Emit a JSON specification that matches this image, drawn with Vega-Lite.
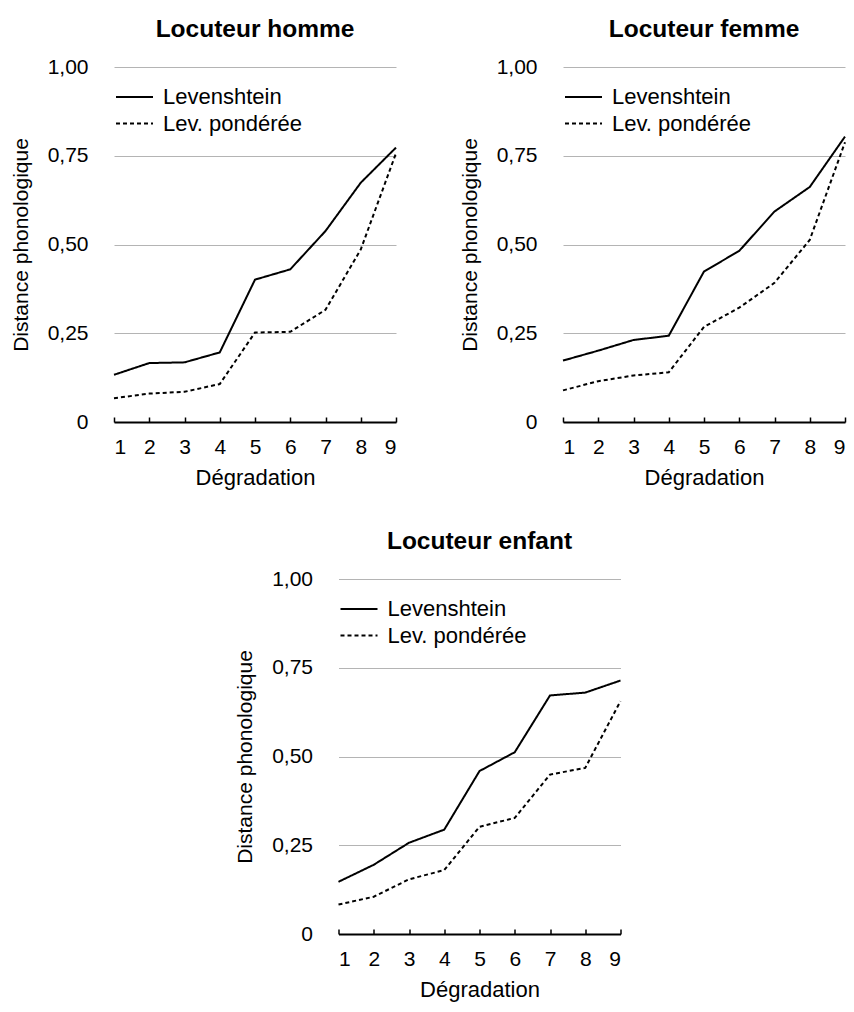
{
  "$schema": "https://vega.github.io/schema/vega-lite/v6.json",
  "background": "white",
  "padding": {"left": 10, "top": 16, "right": 5, "bottom": 5},
  "config": {
    "font": "Liberation Sans",
    "view": {"stroke": null},
    "axis": {"labelFont": "Liberation Sans", "titleFont": "Liberation Sans", "labelColor": "#000", "titleColor": "#000", "titleFontWeight": "normal"},
    "title": {"font": "Liberation Sans", "fontSize": 24.5, "fontWeight": "bold", "color": "#000", "offset": 14, "anchor": "middle"},
    "legend": {"orient": "none", "legendX": 1, "legendY": 18, "symbolType": "stroke", "symbolStrokeColor": "#000", "symbolStrokeWidth": 2, "symbolSize": 1369, "labelFont": "Liberation Sans", "labelFontSize": 22, "labelColor": "#000", "labelOffset": 9, "clipHeight": 24, "rowPadding": 2.5, "padding": 0}
  },
  "data": {"values": [
    {"panel": "homme", "type": "Levenshtein", "deg": 1, "value": 0.133},
    {"panel": "homme", "type": "Levenshtein", "deg": 2, "value": 0.166},
    {"panel": "homme", "type": "Levenshtein", "deg": 3, "value": 0.168},
    {"panel": "homme", "type": "Levenshtein", "deg": 4, "value": 0.196},
    {"panel": "homme", "type": "Levenshtein", "deg": 5, "value": 0.401},
    {"panel": "homme", "type": "Levenshtein", "deg": 6, "value": 0.430},
    {"panel": "homme", "type": "Levenshtein", "deg": 7, "value": 0.538},
    {"panel": "homme", "type": "Levenshtein", "deg": 8, "value": 0.674},
    {"panel": "homme", "type": "Levenshtein", "deg": 9, "value": 0.773},
    {"panel": "homme", "type": "Lev. pondérée", "deg": 1, "value": 0.067},
    {"panel": "homme", "type": "Lev. pondérée", "deg": 2, "value": 0.080},
    {"panel": "homme", "type": "Lev. pondérée", "deg": 3, "value": 0.085},
    {"panel": "homme", "type": "Lev. pondérée", "deg": 4, "value": 0.107},
    {"panel": "homme", "type": "Lev. pondérée", "deg": 5, "value": 0.252},
    {"panel": "homme", "type": "Lev. pondérée", "deg": 6, "value": 0.254},
    {"panel": "homme", "type": "Lev. pondérée", "deg": 7, "value": 0.316},
    {"panel": "homme", "type": "Lev. pondérée", "deg": 8, "value": 0.486},
    {"panel": "homme", "type": "Lev. pondérée", "deg": 9, "value": 0.757},
    {"panel": "femme", "type": "Levenshtein", "deg": 1, "value": 0.173},
    {"panel": "femme", "type": "Levenshtein", "deg": 2, "value": 0.201},
    {"panel": "femme", "type": "Levenshtein", "deg": 3, "value": 0.231},
    {"panel": "femme", "type": "Levenshtein", "deg": 4, "value": 0.243},
    {"panel": "femme", "type": "Levenshtein", "deg": 5, "value": 0.424},
    {"panel": "femme", "type": "Levenshtein", "deg": 6, "value": 0.482},
    {"panel": "femme", "type": "Levenshtein", "deg": 7, "value": 0.593},
    {"panel": "femme", "type": "Levenshtein", "deg": 8, "value": 0.662},
    {"panel": "femme", "type": "Levenshtein", "deg": 9, "value": 0.804},
    {"panel": "femme", "type": "Lev. pondérée", "deg": 1, "value": 0.089},
    {"panel": "femme", "type": "Lev. pondérée", "deg": 2, "value": 0.115},
    {"panel": "femme", "type": "Lev. pondérée", "deg": 3, "value": 0.131},
    {"panel": "femme", "type": "Lev. pondérée", "deg": 4, "value": 0.140},
    {"panel": "femme", "type": "Lev. pondérée", "deg": 5, "value": 0.268},
    {"panel": "femme", "type": "Lev. pondérée", "deg": 6, "value": 0.322},
    {"panel": "femme", "type": "Lev. pondérée", "deg": 7, "value": 0.392},
    {"panel": "femme", "type": "Lev. pondérée", "deg": 8, "value": 0.513},
    {"panel": "femme", "type": "Lev. pondérée", "deg": 9, "value": 0.788},
    {"panel": "enfant", "type": "Levenshtein", "deg": 1, "value": 0.147},
    {"panel": "enfant", "type": "Levenshtein", "deg": 2, "value": 0.195},
    {"panel": "enfant", "type": "Levenshtein", "deg": 3, "value": 0.257},
    {"panel": "enfant", "type": "Levenshtein", "deg": 4, "value": 0.294},
    {"panel": "enfant", "type": "Levenshtein", "deg": 5, "value": 0.459},
    {"panel": "enfant", "type": "Levenshtein", "deg": 6, "value": 0.512},
    {"panel": "enfant", "type": "Levenshtein", "deg": 7, "value": 0.672},
    {"panel": "enfant", "type": "Levenshtein", "deg": 8, "value": 0.680},
    {"panel": "enfant", "type": "Levenshtein", "deg": 9, "value": 0.714},
    {"panel": "enfant", "type": "Lev. pondérée", "deg": 1, "value": 0.083},
    {"panel": "enfant", "type": "Lev. pondérée", "deg": 2, "value": 0.105},
    {"panel": "enfant", "type": "Lev. pondérée", "deg": 3, "value": 0.154},
    {"panel": "enfant", "type": "Lev. pondérée", "deg": 4, "value": 0.180},
    {"panel": "enfant", "type": "Lev. pondérée", "deg": 5, "value": 0.302},
    {"panel": "enfant", "type": "Lev. pondérée", "deg": 6, "value": 0.327},
    {"panel": "enfant", "type": "Lev. pondérée", "deg": 7, "value": 0.449},
    {"panel": "enfant", "type": "Lev. pondérée", "deg": 8, "value": 0.468},
    {"panel": "enfant", "type": "Lev. pondérée", "deg": 9, "value": 0.656}
  ]},
  "center": true,
  "spacing": 40,
  "resolve": {"scale": {"strokeDash": "independent"}, "legend": {"strokeDash": "independent"}},
  "vconcat": [
    {
      "spacing": 59,
      "resolve": {"scale": {"strokeDash": "independent"}, "legend": {"strokeDash": "independent"}},
      "hconcat": [
        {
          "title": {"text": "Locuteur homme"},
          "width": 282, "height": 355,
          "transform": [{"filter": "datum.panel === 'homme'"}],
          "mark": {"type": "line", "color": "#000", "strokeWidth": 2},
          "encoding": {
            "x": {"field": "deg", "type": "quantitative", "scale": {"domain": [1, 9], "nice": false},
              "axis": {"values": [1, 2, 3, 4, 5, 6, 7, 8, 9], "title": "Dégradation", "grid": false, "domainColor": "#000", "domainWidth": 2, "tickColor": "#000", "tickWidth": 1.5, "tickSize": -5, "labelFontSize": 21, "titleFontSize": 22, "labelPadding": 19, "titlePadding": 10}},
            "y": {"field": "value", "type": "quantitative", "scale": {"domain": [0, 1], "nice": false},
              "axis": {"values": [0, 0.25, 0.5, 0.75, 1], "labelExpr": "datum.value == 0 ? '0' : replace(format(datum.value, '.2f'), '.', ',')", "domain": false, "ticks": false, "grid": true, "gridColor": "#b4b4b4", "gridWidth": 1, "labelFontSize": 21, "labelPadding": 26, "title": "Distance phonologique", "titleFontSize": 21, "titlePadding": 16}},
            "strokeDash": {"field": "type", "type": "nominal", "scale": {"domain": ["Levenshtein", "Lev. pondérée"], "range": [[1, 0], [4, 3]]}, "legend": {"title": null}}
          }
        },
        {
          "title": {"text": "Locuteur femme"},
          "width": 282, "height": 355,
          "transform": [{"filter": "datum.panel === 'femme'"}],
          "mark": {"type": "line", "color": "#000", "strokeWidth": 2},
          "encoding": {
            "x": {"field": "deg", "type": "quantitative", "scale": {"domain": [1, 9], "nice": false},
              "axis": {"values": [1, 2, 3, 4, 5, 6, 7, 8, 9], "title": "Dégradation", "grid": false, "domainColor": "#000", "domainWidth": 2, "tickColor": "#000", "tickWidth": 1.5, "tickSize": -5, "labelFontSize": 21, "titleFontSize": 22, "labelPadding": 19, "titlePadding": 10}},
            "y": {"field": "value", "type": "quantitative", "scale": {"domain": [0, 1], "nice": false},
              "axis": {"values": [0, 0.25, 0.5, 0.75, 1], "labelExpr": "datum.value == 0 ? '0' : replace(format(datum.value, '.2f'), '.', ',')", "domain": false, "ticks": false, "grid": true, "gridColor": "#b4b4b4", "gridWidth": 1, "labelFontSize": 21, "labelPadding": 26, "title": "Distance phonologique", "titleFontSize": 21, "titlePadding": 16}},
            "strokeDash": {"field": "type", "type": "nominal", "scale": {"domain": ["Levenshtein", "Lev. pondérée"], "range": [[1, 0], [4, 3]]}, "legend": {"title": null}}
          }
        }
      ]
    },
    {
      "title": {"text": "Locuteur enfant"},
      "width": 282, "height": 355,
      "transform": [{"filter": "datum.panel === 'enfant'"}],
      "mark": {"type": "line", "color": "#000", "strokeWidth": 2},
      "encoding": {
        "x": {"field": "deg", "type": "quantitative", "scale": {"domain": [1, 9], "nice": false},
          "axis": {"values": [1, 2, 3, 4, 5, 6, 7, 8, 9], "title": "Dégradation", "grid": false, "domainColor": "#000", "domainWidth": 2, "tickColor": "#000", "tickWidth": 1.5, "tickSize": -5, "labelFontSize": 21, "titleFontSize": 22, "labelPadding": 19, "titlePadding": 10}},
        "y": {"field": "value", "type": "quantitative", "scale": {"domain": [0, 1], "nice": false},
          "axis": {"values": [0, 0.25, 0.5, 0.75, 1], "labelExpr": "datum.value == 0 ? '0' : replace(format(datum.value, '.2f'), '.', ',')", "domain": false, "ticks": false, "grid": true, "gridColor": "#b4b4b4", "gridWidth": 1, "labelFontSize": 21, "labelPadding": 26, "title": "Distance phonologique", "titleFontSize": 21, "titlePadding": 16}},
        "strokeDash": {"field": "type", "type": "nominal", "scale": {"domain": ["Levenshtein", "Lev. pondérée"], "range": [[1, 0], [4, 3]]}, "legend": {"title": null}}
      }
    }
  ]
}
